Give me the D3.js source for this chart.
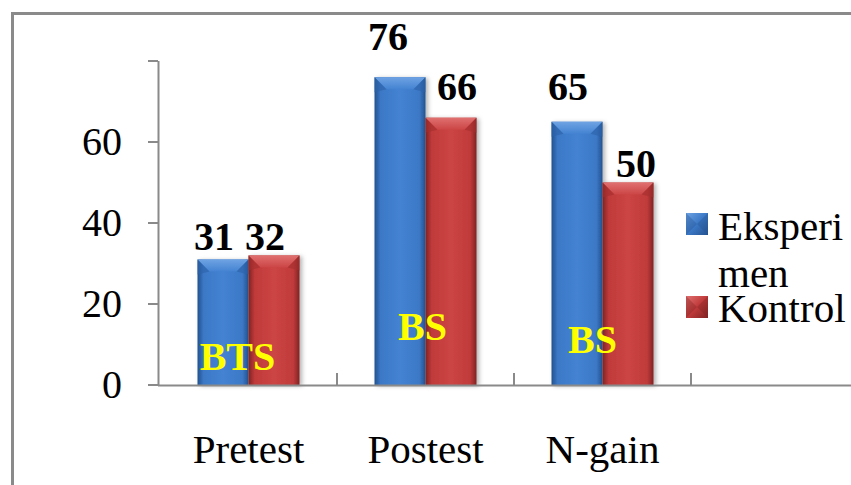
<!DOCTYPE html>
<html>
<head>
<meta charset="utf-8">
<script src="https://cdn.jsdelivr.net/npm/d3@7"></script>
<style>
  html, body { margin: 0; padding: 0; background: #fff; }
  svg { display: block; font-family: "Liberation Serif", "Times New Roman", serif; }
</style>
</head>
<body>
<svg id="chart" width="851" height="485"></svg>
<script>
// Data
const categories = ["Pretest", "Postest", "N-gain"];
const seriesNames = ["Eksperimen", "Kontrol"];
const eksperimen = [31, 76, 65];
const kontrol = [32, 66, 50];
const significance = ["BTS", "BS", "BS"];
const yTicks = [0, 20, 40, 60, 80];
const yTickLabels = ["0", "20", "40", "60", ""];

const values = [eksperimen, kontrol];

const svg = d3.select("#chart");
const W = 851, H = 485;

// Layout
const plot = { left: 158, right: 691, top: 61, bottom: 385 };
const axisColor = "#8a8a8a";

const y = d3.scaleLinear().domain([0, 80]).range([plot.bottom, plot.top]);
const x0 = d3.scaleBand().domain(categories).range([160, 691]).padding(0);
const x1 = d3.scaleBand().domain(seriesNames)
  .range([x0.bandwidth() / 2 - 51, x0.bandwidth() / 2 + 51]).padding(0);

// Colours: [dark edge, mid, light, bevel top]
const palette = {
  Eksperimen: { edge: "#24528f", mid: "#3b78c6", light: "#4483d2", bevel: "#6fa3e3", bevelDark: "#2d62a8" },
  Kontrol:    { edge: "#7f2222", mid: "#c03a3a", light: "#cc4545", bevel: "#e07070", bevelDark: "#a52f2f" }
};

const defs = svg.append("defs");
seriesNames.forEach(s => {
  const c = palette[s];
  const g = defs.append("linearGradient").attr("id", "grad-" + s)
    .attr("x1", "0%").attr("x2", "100%").attr("y1", "0%").attr("y2", "0%");
  g.append("stop").attr("offset", "0%").attr("stop-color", c.edge);
  g.append("stop").attr("offset", "12%").attr("stop-color", c.mid);
  g.append("stop").attr("offset", "50%").attr("stop-color", c.light);
  g.append("stop").attr("offset", "88%").attr("stop-color", c.mid);
  g.append("stop").attr("offset", "100%").attr("stop-color", c.edge);

  const gv = defs.append("linearGradient").attr("id", "bev-" + s)
    .attr("x1", "0%").attr("x2", "0%").attr("y1", "0%").attr("y2", "100%");
  gv.append("stop").attr("offset", "0%").attr("stop-color", c.bevel);
  gv.append("stop").attr("offset", "100%").attr("stop-color", c.light);
});
const shadow = defs.append("filter").attr("id", "shadow")
  .attr("x", "-20%").attr("y", "-10%").attr("width", "150%").attr("height", "130%");
shadow.append("feDropShadow").attr("dx", 2.5).attr("dy", 1).attr("stdDeviation", 2)
  .attr("flood-color", "#000").attr("flood-opacity", 0.3);

// Outer frame (left and top edges)
svg.append("path")
  .attr("d", `M12.5,${H} V13.5 H${W}`)
  .attr("fill", "none").attr("stroke", axisColor).attr("stroke-width", 3);

// Y axis
const yAxis = svg.append("g");
yAxis.append("line")
  .attr("x1", plot.left + 0.5).attr("x2", plot.left + 0.5)
  .attr("y1", y(80)).attr("y2", y(0))
  .attr("stroke", axisColor).attr("stroke-width", 2);
yAxis.selectAll(".tick").data(yTicks).join("line")
  .attr("x1", plot.left - 10).attr("x2", plot.left)
  .attr("y1", d => y(d)).attr("y2", d => y(d))
  .attr("stroke", axisColor).attr("stroke-width", 2);
yAxis.selectAll(".lab").data(yTicks).join("text")
  .attr("x", 122).attr("y", d => y(d))
  .attr("dy", "0.33em")
  .attr("text-anchor", "end")
  .attr("font-size", 40)
  .attr("fill", "#000")
  .text((d, i) => yTickLabels[i]);

// Bars
const bars = svg.append("g");
categories.forEach((cat, ci) => {
  seriesNames.forEach((s, si) => {
    const v = values[si][ci];
    const bx = x0(cat) + x1(s);
    const bw = x1.bandwidth();
    const top = y(v);
    const h = y(0) - top;
    const c = palette[s];
    const g = bars.append("g");
    g.append("rect")
      .attr("x", bx).attr("y", top).attr("width", bw).attr("height", h)
      .attr("fill", `url(#grad-${s})`)
      .attr("filter", "url(#shadow)");
    // top bevel
    const bev = Math.min(12, h / 2);
    g.append("path")
      .attr("d", `M${bx},${top} H${bx + bw} L${bx + bw - bev},${top + bev} H${bx + bev} Z`)
      .attr("fill", `url(#bev-${s})`);
    g.append("path")
      .attr("d", `M${bx},${top} L${bx + bev},${top + bev} L${bx},${top + bev + 3} Z`)
      .attr("fill", c.bevelDark).attr("opacity", 0.6);
    g.append("path")
      .attr("d", `M${bx + bw},${top} L${bx + bw - bev},${top + bev} L${bx + bw},${top + bev + 3} Z`)
      .attr("fill", c.bevelDark).attr("opacity", 0.6);
  });
});

// X axis
const xAxis = svg.append("g");
xAxis.append("line")
  .attr("x1", plot.left).attr("x2", W)
  .attr("y1", plot.bottom + 0.5).attr("y2", plot.bottom + 0.5)
  .attr("stroke", axisColor).attr("stroke-width", 2);
xAxis.selectAll(".tick").data(categories).join("line")
  .attr("x1", d => x0(d) + x0.bandwidth()).attr("x2", d => x0(d) + x0.bandwidth())
  .attr("y1", plot.bottom - 12).attr("y2", plot.bottom)
  .attr("stroke", axisColor).attr("stroke-width", 2);
xAxis.selectAll(".lab").data(categories).join("text")
  .attr("x", d => x0(d) + x0.bandwidth() / 2)
  .attr("y", 463)
  .attr("text-anchor", "middle")
  .attr("font-size", 41)
  .attr("fill", "#000")
  .text(d => d);

// Value labels (hand-placed nudges relative to each bar's top centre)
const labelNudge = {
  "Pretest|Eksperimen": [-9, -9],
  "Pretest|Kontrol": [-9, -5],
  "Postest|Eksperimen": [-12, -27],
  "Postest|Kontrol": [6, -18],
  "N-gain|Eksperimen": [-9, -22],
  "N-gain|Kontrol": [8, -6]
};
const vlab = svg.append("g");
categories.forEach((cat, ci) => {
  seriesNames.forEach((s, si) => {
    const v = values[si][ci];
    const n = labelNudge[cat + "|" + s];
    vlab.append("text")
      .attr("x", x0(cat) + x1(s) + x1.bandwidth() / 2 + n[0])
      .attr("y", y(v) + n[1])
      .attr("text-anchor", "middle")
      .attr("font-size", 40)
      .attr("font-weight", "bold")
      .attr("fill", "#000")
      .text(v);
  });
});

// Significance labels inside the bar groups
const sigNudge = { "Pretest": [-11, -15], "Postest": [-3, -45], "N-gain": [-10, -32] };
svg.append("g").selectAll("text").data(categories).join("text")
  .attr("x", d => x0(d) + x0.bandwidth() / 2 + sigNudge[d][0])
  .attr("y", d => y(0) + sigNudge[d][1])
  .attr("text-anchor", "middle")
  .attr("font-size", 40)
  .attr("font-weight", "bold")
  .attr("fill", "#ffff00")
  .text((d, i) => significance[i]);

// Legend
const legend = svg.append("g");
const legendItems = [
  { s: "Eksperimen", y: 213, lines: [["Eksperi", 240], ["men", 287]] },
  { s: "Kontrol", y: 296, lines: [["Kontrol", 322]] }
];
legendItems.forEach(it => {
  const c = palette[it.s];
  const lg = defs.append("linearGradient").attr("id", "lg-" + it.s)
    .attr("x1", "0%").attr("x2", "100%").attr("y1", "0%").attr("y2", "100%");
  lg.append("stop").attr("offset", "0%").attr("stop-color", c.bevel);
  lg.append("stop").attr("offset", "50%").attr("stop-color", c.mid);
  lg.append("stop").attr("offset", "100%").attr("stop-color", c.edge);
  legend.append("rect")
    .attr("x", 686).attr("y", it.y).attr("width", 22).attr("height", 22)
    .attr("fill", `url(#lg-${it.s})`);
  legend.append("path")
    .attr("d", `M686,${it.y} L697,${it.y + 11} L686,${it.y + 22} Z`)
    .attr("fill", c.edge).attr("opacity", 0.35);
  legend.append("path")
    .attr("d", `M708,${it.y} L697,${it.y + 11} L708,${it.y + 22} Z`)
    .attr("fill", c.edge).attr("opacity", 0.35);
  it.lines.forEach(([t, by]) => {
    legend.append("text")
      .attr("x", 718).attr("y", by)
      .attr("font-size", 41)
      .attr("fill", "#000")
      .text(t);
  });
});
</script>
</body>
</html>
